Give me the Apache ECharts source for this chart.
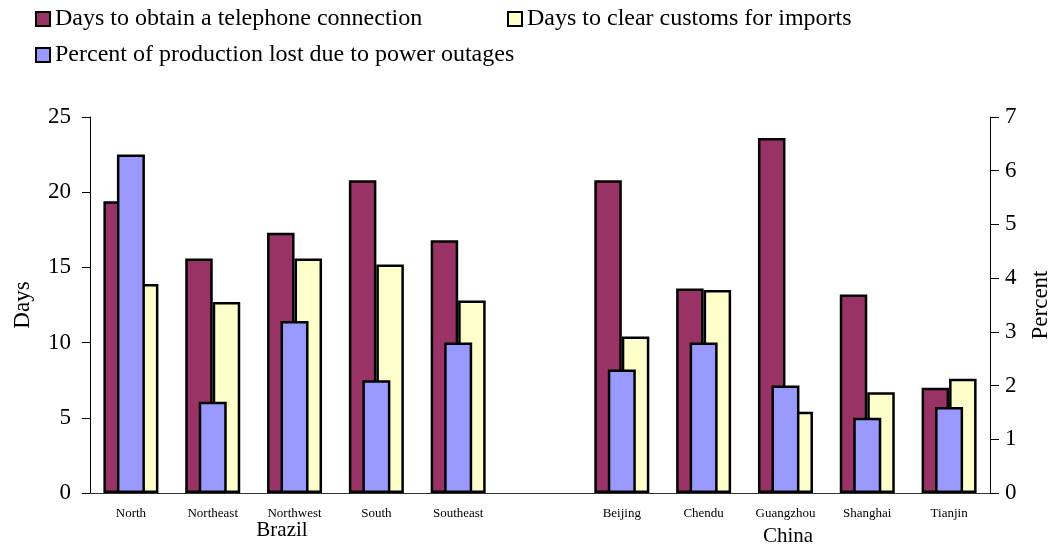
<!DOCTYPE html>
<html>
<head>
<meta charset="utf-8">
<script src="https://cdn.jsdelivr.net/npm/echarts@6/dist/echarts.min.js"></script>
<style>
  html, body { margin: 0; padding: 0; background: #fff; }
  #chart { width: 1056px; height: 548px; }
</style>
</head>
<body>
<div id="chart"></div>
<script>
// Regions of Brazil and cities of China, with an empty slot between the two groups
const categories = ['North', 'Northeast', 'Northwest', 'South', 'Southeast', '',
                    'Beijing', 'Chendu', 'Guangzhou', 'Shanghai', 'Tianjin'];

const seriesNames = [
  'Days to obtain a telephone connection',
  'Days to clear customs for imports',
  'Percent of production lost due to power outages'
];

// Days (left axis)
const telephoneDays = [19.4, 15.6, 17.3, 20.8, 16.8, null, 20.8, 13.6, 23.6, 13.2, 7.0];
const customsDays   = [13.9, 12.7, 15.6, 15.2, 12.8, null, 10.4, 13.5, 5.4, 6.7, 7.6];
// Percent (right axis)
const powerLossPct  = [6.3, 1.7, 3.2, 2.1, 2.8, null, 2.3, 2.8, 2.0, 1.4, 1.6];

const daysTicks = { min: 0, max: 25, interval: 5 };
const pctTicks  = { min: 0, max: 7, interval: 1 };

const groupLabels = ['Brazil', 'China'];

const FONT = '"Liberation Serif", "Times New Roman", serif';
const colors = ['#993366', '#FFFFCC', '#9999FF'];

const chart = echarts.init(document.getElementById('chart'), null, { renderer: 'canvas' });

const legendBase = {
  orient: 'horizontal',
  itemWidth: 14,
  itemHeight: 14,
  icon: 'rect',
  selectedMode: false,
  padding: 0,
  textStyle: { fontFamily: FONT, fontSize: 24, color: '#000' },
  itemStyle: { borderColor: '#000', borderWidth: 2 }
};

const barBorder = { borderColor: '#000', borderWidth: 2.5 };

chart.setOption({
  backgroundColor: '#fff',
  animation: false,
  color: colors,
  textStyle: { fontFamily: FONT },
  legend: [
    Object.assign({}, legendBase, { data: [seriesNames[0]], left: 35, top: 7 }),
    Object.assign({}, legendBase, { data: [seriesNames[1]], left: 507, top: 7 }),
    Object.assign({}, legendBase, { data: [seriesNames[2]], left: 35, top: 43 })
  ],
  grid: { left: 90, right: 66, top: 117, bottom: 55, outerBoundsMode: 'none' },
  xAxis: [
    {
      type: 'category',
      data: categories,
      axisLine: { show: true, lineStyle: { color: '#333', width: 1 } },
      axisTick: { show: false },
      axisLabel: { fontFamily: FONT, fontSize: 13, color: '#000', margin: 14, interval: 0 },
      splitLine: { show: false }
    },
    {
      type: 'category',
      data: categories,
      show: false
    }
  ],
  yAxis: [
    {
      type: 'value',
      min: daysTicks.min, max: daysTicks.max, interval: daysTicks.interval,
      name: 'Days',
      nameLocation: 'middle',
      nameRotate: 90,
      nameGap: 56,
      nameTextStyle: { fontFamily: FONT, fontSize: 23, color: '#000' },
      axisLine: { show: true, lineStyle: { color: '#000', width: 1 } },
      axisTick: { show: true, length: 8, lineStyle: { color: '#000' } },
      axisLabel: { fontFamily: FONT, fontSize: 23, color: '#000', margin: 19 },
      splitLine: { show: false }
    },
    {
      type: 'value',
      position: 'right',
      min: pctTicks.min, max: pctTicks.max, interval: pctTicks.interval,
      name: 'Percent',
      nameLocation: 'middle',
      nameRotate: 90,
      nameGap: 39,
      nameTextStyle: { fontFamily: FONT, fontSize: 23, color: '#000' },
      axisLine: { show: true, lineStyle: { color: '#000', width: 1 } },
      axisTick: { show: true, length: 9, lineStyle: { color: '#000' } },
      axisLabel: { fontFamily: FONT, fontSize: 23, color: '#000', margin: 15 },
      splitLine: { show: false }
    }
  ],
  series: [
    {
      name: seriesNames[0],
      type: 'bar',
      xAxisIndex: 0, yAxisIndex: 0,
      data: telephoneDays,
      barWidth: 27.5,
      barGap: '0%',
      itemStyle: Object.assign({ color: colors[0] }, barBorder),
      z: 2
    },
    {
      name: seriesNames[1],
      type: 'bar',
      xAxisIndex: 0, yAxisIndex: 0,
      data: customsDays,
      barWidth: 27.5,
      barGap: '0%',
      itemStyle: Object.assign({ color: colors[1] }, barBorder),
      z: 2
    },
    {
      name: seriesNames[2],
      type: 'bar',
      xAxisIndex: 1, yAxisIndex: 1,
      data: powerLossPct,
      barWidth: 28,
      itemStyle: Object.assign({ color: colors[2] }, barBorder),
      z: 3
    }
  ],
  graphic: [
    {
      type: 'text', x: 282, y: 530,
      style: { text: groupLabels[0], font: '21px ' + FONT, fill: '#000',
               textAlign: 'center', textVerticalAlign: 'middle' }
    },
    {
      type: 'text', x: 788, y: 536,
      style: { text: groupLabels[1], font: '21px ' + FONT, fill: '#000',
               textAlign: 'center', textVerticalAlign: 'middle' }
    }
  ]
});
</script>
</body>
</html>
